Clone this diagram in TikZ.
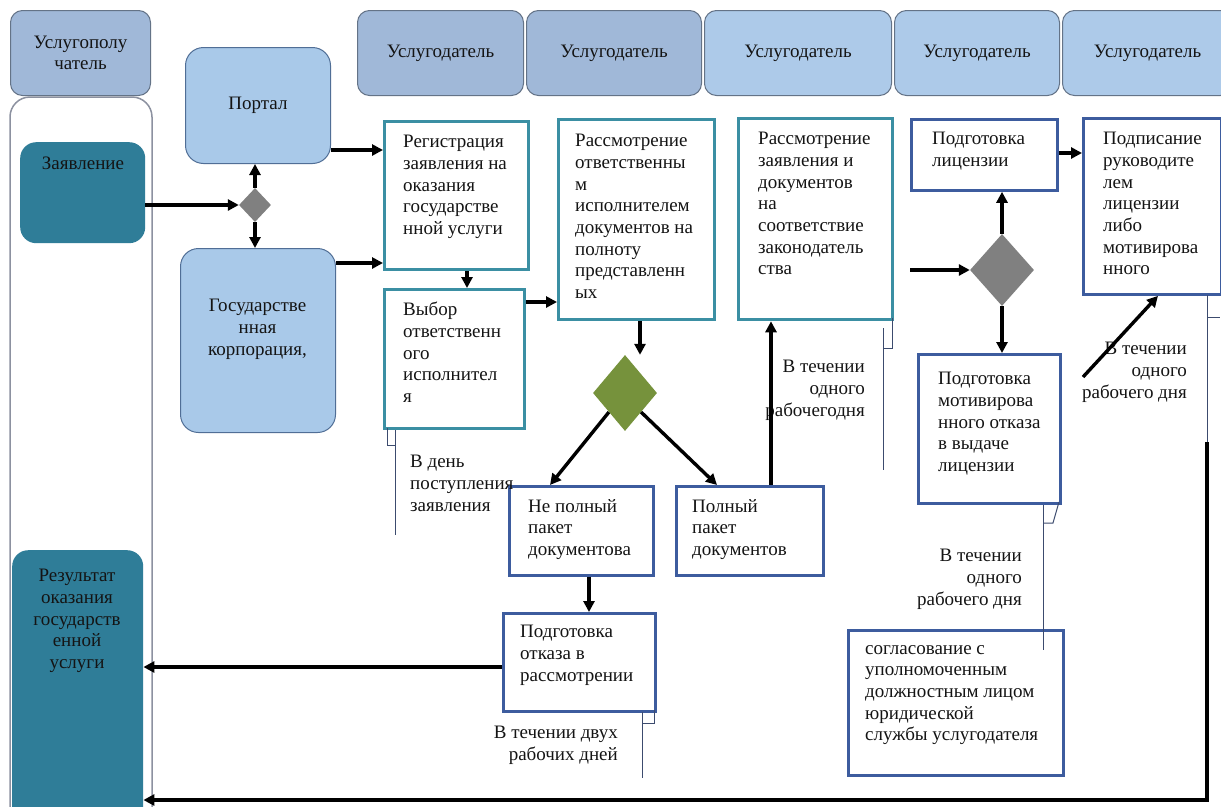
\documentclass[tikz,border=0pt]{standalone}
\usepackage{fontspec}
\setmainfont{Liberation Serif}
\usetikzlibrary{arrows.meta,shapes.geometric}
\definecolor{hdrA}{RGB}{160,184,216}
\definecolor{hdrB}{RGB}{173,202,233}
\definecolor{hdrline}{RGB}{100,115,135}
\definecolor{portalfill}{RGB}{169,201,233}
\definecolor{portalline}{RGB}{80,110,150}
\definecolor{tealfill}{RGB}{47,125,152}
\definecolor{tealline}{RGB}{59,143,163}
\definecolor{navyline}{RGB}{61,92,158}
\definecolor{lanegray}{RGB}{140,145,160}
\definecolor{greendia}{RGB}{118,146,60}
\definecolor{graydia}{RGB}{128,128,128}
\definecolor{thinline}{RGB}{60,75,110}
\definecolor{txtcol}{RGB}{20,20,20}
\newcommand\fs{\fontsize{19}{21.7}\selectfont}
\begin{document}
\begin{tikzpicture}[x=1pt,y=-1pt,
  hdr/.style={draw=hdrline, line width=1pt, rounded corners=12pt, anchor=north west, inner sep=0pt, align=center, font=\fs, text=txtcol},
  rbox/.style={draw=portalline, line width=1pt, fill=portalfill, rounded corners=18pt, anchor=north west, inner sep=0pt},
  tealbox/.style={fill=tealfill, rounded corners=16pt, anchor=north west, inner sep=0pt},
  tbx/.style={draw=tealline, line width=3.3pt, fill=white, anchor=north west, inner sep=0pt},
  nbx/.style={draw=navyline, line width=2.8pt, fill=white, anchor=north west, inner sep=0pt},
  txt/.style={anchor=north west, align=left, inner sep=0pt, font=\fs, text=txtcol},
  rtxt/.style={anchor=north east, align=right, inner sep=0pt, font=\fs, text=txtcol},
  ctxt/.style={anchor=north, align=center, inner sep=0pt, font=\fs, text=txtcol},
  arr/.style={line width=3.4pt, -{Triangle[length=11pt,width=11pt]}},
  thinl/.style={draw=thinline, line width=1pt},
]
\useasboundingbox (0,0) rectangle (1221,806);
\clip (0,0) rectangle (1221,806);
\fill[white] (0,0) rectangle (1221,806);

% headers
\node[hdr, fill=hdrA, minimum width=140pt, minimum height=85pt] (h0) at (10,10) {Услугополу\\чатель};
\node[hdr, fill=hdrA, minimum width=166pt, minimum height=85pt] (h1) at (357,10) {Услугодатель};
\node[hdr, fill=hdrA, minimum width=175pt, minimum height=85pt] (h2) at (526,10) {Услугодатель};
\node[hdr, fill=hdrB, minimum width=187pt, minimum height=85pt] (h3) at (704,10) {Услугодатель};
\node[hdr, fill=hdrB, minimum width=165pt, minimum height=85pt] (h4) at (894,10) {Услугодатель};
\node[hdr, fill=hdrB, minimum width=170pt, minimum height=85pt] (h5) at (1062,10) {Услугодатель};

% lane of the receiver
\draw[lanegray, line width=1.5pt, rounded corners=20pt] (10,97) rectangle (152,860);

% receiver boxes
\node[tealbox, minimum width=125pt, minimum height=101pt] (zayav) at (20,142) {};
\node[ctxt] (zayavt) at (83,157) {Заявление};
\node[tealbox, minimum width=131pt, minimum height=300pt] (result) at (12,550) {};
\node[ctxt] (resultt) at (77,569) {Результат\\оказания\\государств\\енной\\услуги};

% portal / corporation
\node[rbox, minimum width=145pt, minimum height=116pt, font=\fs, text=txtcol] (portal) at (185,47) {Портал};
\node[rbox, minimum width=155pt, minimum height=184pt] (gos) at (180,248) {};
\node[ctxt] (gost) at (257.5,299) {Государстве\\нная\\корпорация,};

% teal boxes
\node[tbx, minimum width=144pt, minimum height=148pt] (reg) at (383,120) {};
\node[txt] (regt) at (403,135) {Регистрация\\заявления на\\оказания\\государстве\\нной услуги};
\node[tbx, minimum width=140pt, minimum height=139pt] (vybor) at (383,288) {};
\node[txt] (vybort) at (403,302) {Выбор\\ответственн\\ого\\исполнител\\я};
\node[tbx, minimum width=156pt, minimum height=200pt] (rassm1) at (557,118) {};
\node[txt] (rassm1t) at (575,134) {Рассмотрение\\ответственны\\м\\исполнителем\\документов на\\полноту\\представленн\\ых};
\node[tbx, minimum width=154pt, minimum height=201pt] (rassm2) at (737,117) {};
\node[txt] (rassm2t) at (758,132) {Рассмотрение\\заявления и\\документов\\на\\соответствие\\законодатель\\ства};

% navy boxes
\node[nbx, minimum width=146pt, minimum height=71pt] (lic) at (910,118) {};
\node[txt] (lict) at (932,132) {Подготовка\\лицензии};
\node[nbx, minimum width=138pt, minimum height=176pt] (podp) at (1082,117) {};
\node[txt] (podpt) at (1103,132) {Подписание\\руководите\\лем\\лицензии\\либо\\мотивирова\\нного};
\node[nbx, minimum width=142pt, minimum height=149pt] (motiv) at (917,353) {};
\node[txt] (motivt) at (938,372) {Подготовка\\мотивирова\\нного отказа\\в выдаче\\лицензии};
\node[nbx, minimum width=144pt, minimum height=89pt] (nepol) at (508,485) {};
\node[txt] (nepolt) at (528,499) {Не полный\\пакет\\документова};
\node[nbx, minimum width=147pt, minimum height=89pt] (pol) at (675,485) {};
\node[txt] (polt) at (692,499) {Полный\\пакет\\документов};
\node[nbx, minimum width=152pt, minimum height=98pt] (otkaz) at (502,612) {};
\node[txt] (otkazt) at (520,625) {Подготовка\\отказа в\\рассмотрении};
\node[nbx, minimum width=215pt, minimum height=145pt] (soglas) at (847,629) {};
\node[txt] (soglast) at (865,645) {согласование с\\уполномоченным\\должностным лицом\\юридической\\службы услугодателя};

% diamonds
\node[diamond, fill=graydia, minimum width=32pt, minimum height=34pt, inner sep=0pt] (d1) at (255,205) {};
\node[diamond, fill=greendia, minimum width=64pt, minimum height=76pt, inner sep=0pt] (gd) at (625,393) {};
\node[diamond, fill=graydia, minimum width=64pt, minimum height=72pt, inner sep=0pt] (gd2) at (1002,270) {};

% callouts
\draw[thinl] (387,428) -- (387,445) -- (395,445);
\draw[thinl] (395,430) -- (395,535);
\node[txt] (c1) at (410,455) {В день\\поступления\\заявления};
\draw[thinl] (892,318) -- (892,348) -- (883,348);
\draw[thinl] (883,328) -- (883,470);
\node[rtxt] (c2) at (865,360) {В течении\\одного\\рабочегодня};
\draw[thinl] (654,710) -- (654,723) -- (642,723);
\draw[thinl] (642,712) -- (642,778);
\node[rtxt] (c3) at (618,726) {В течении двух\\рабочих дней};
\draw[thinl] (1059,502) -- (1053,523) -- (1043,523);
\draw[thinl] (1043,505) -- (1043,650);
\node[rtxt] (c4) at (1022,549) {В течении\\одного\\рабочего дня};
\draw[thinl] (1207,295) -- (1207,317) -- (1220,317);
\coordinate (retstart) at (1207,442);
\draw[thinl] (1207,317) -- (retstart);
\node[rtxt] (c5) at (1187,342) {В течении\\одного\\рабочего дня};

% arrows
\draw[arr] (zayav.east |- d1) -- (d1.west);
\draw[arr] (d1.north) -- (d1.north |- portal.south);
\draw[arr] (d1.south) -- (d1.south |- gos.north);
\draw[arr] (portal.east |- 0,150) -- (reg.west |- 0,150);
\draw[arr] (gos.east |- 0,263) -- (reg.west |- 0,263);
\draw[arr] (reg.south -| 467,0) -- (vybor.north -| 467,0);
\draw[arr] (vybor.east |- 0,302) -- (rassm1.west |- 0,302);
\draw[arr] (rassm1.south -| 640,0) -- (gd.north -| 640,0);
\draw[arr] (gd.south west) -- (nepol.north -| 550,0);
\draw[arr] (gd.south east) -- (pol.north -| 717,0);
\draw[arr] (pol.north -| 771,0) -- (rassm2.south -| 771,0);
\draw[arr] (nepol.south -| 589,0) -- (otkaz.north -| 589,0);
\draw[arr] (otkaz.west |- 0,667) -- (result.east |- 0,667);
\coordinate (g2in) at (910,270);
\draw[arr] (g2in) -- (gd2.west);
\draw[arr] (gd2.north) -- (gd2.north |- lic.south);
\draw[arr] (gd2.south) -- (gd2.south |- motiv.north);
\draw[arr] (lic.east |- 0,153) -- (podp.west |- 0,153);
\coordinate (dg) at (1083,377);
\draw[arr] (dg) -- (podp.south -| 1158,0);
\draw[arr, line width=3.6pt] (retstart) -- (1207,800) -- (result.east |- 0,800);
\end{tikzpicture}
\end{document}
